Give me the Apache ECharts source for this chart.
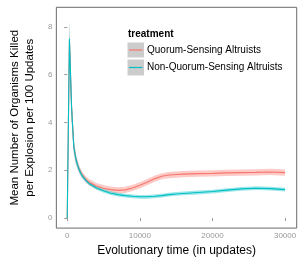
<!DOCTYPE html>
<html><head><meta charset="utf-8">
<script src="https://cdn.jsdelivr.net/npm/echarts@6/dist/echarts.min.js"></script>
<style>html,body{margin:0;padding:0;background:#fff}#c{width:305px;height:262px}</style>
</head><body><div id="c"></div>
<script>
const updates = [0,300,600,900,1200,1600,2000,2500,3000,4000,5000,6000,7000,8000,9000,10000,11000,12000,13000,14000,15000,16000,18000,20000,22000,24000,26000,28000,30000];
const qsMean  = [0,7.4,4.6,3.0,2.45,2.07,1.83,1.64,1.5,1.34,1.25,1.19,1.16,1.18,1.26,1.37,1.5,1.64,1.75,1.8,1.82,1.84,1.86,1.87,1.89,1.9,1.91,1.93,1.9];
const qsSE    = [0,0.8,0.5,0.3,0.2,0.16,0.14,0.13,0.13,0.13,0.13,0.13,0.13,0.13,0.13,0.13,0.13,0.13,0.13,0.13,0.13,0.13,0.13,0.13,0.13,0.13,0.13,0.13,0.13];
const nqsMean = [0,7.5,4.6,3.0,2.45,2.05,1.8,1.6,1.45,1.27,1.14,1.04,0.98,0.94,0.91,0.89,0.89,0.91,0.94,0.98,1.01,1.03,1.07,1.11,1.17,1.22,1.25,1.23,1.19];
const nqsSE   = [0,0.8,0.5,0.3,0.2,0.14,0.1,0.09,0.08,0.08,0.08,0.08,0.08,0.08,0.08,0.08,0.08,0.08,0.08,0.08,0.08,0.08,0.08,0.08,0.08,0.08,0.08,0.08,0.08];
const xTicks = [0,10000,20000,30000];
const yTicks = [0,2,4,6,8];
const names = ['Quorum-Sensing Altruists','Non-Quorum-Sensing Altruists'];
const colors = ['#F8766D','#00BFC4'];

function ribbon(mean, se, color){
  const data = updates.map((u,i)=>[u, mean[i]-se[i], mean[i]+se[i]]);
  return {
    type:'custom', data:data, clip:true, silent:true, z:1,
    encode:{x:0, y:[1,2]},
    renderItem:function(params, api){
      if (params.dataIndex !== 0) return null;
      const pts = [];
      for (let i=0;i<data.length;i++) pts.push(api.coord([data[i][0], data[i][2]]));
      for (let i=data.length-1;i>=0;i--) pts.push(api.coord([data[i][0], data[i][1]]));
      return {type:'polygon', shape:{points:pts}, style:{fill:color, opacity:0.38}};
    }
  };
}
function line(mean, color){
  return {type:'line', data:updates.map((u,i)=>[u, mean[i]]), symbol:'none', lineStyle:{color:color, width:1.1}, z:3};
}
const chart = echarts.init(document.getElementById('c'), null, {renderer:'canvas'});
chart.setOption({
  animation:false,
  grid:{left:37.7, right:8.3, top:7.3, bottom:26.3, show:true, borderColor:'#6b6b6b', borderWidth:1, backgroundColor:'#fff'},
  xAxis:{type:'value', min:-1500, max:31600,
    axisLine:{show:false}, splitLine:{show:false},
    axisTick:{show:true, customValues:xTicks, length:3, lineStyle:{color:'#999'}},
    axisLabel:{customValues:xTicks, formatter:v=>String(v), color:'#999', fontSize:8, fontFamily:'Liberation Sans', margin:4},
    name:'Evolutionary time (in updates)', nameLocation:'middle', nameGap:13,
    nameTextStyle:{color:'#000', fontSize:12, fontFamily:'Liberation Sans'}},
  yAxis:{type:'value', min:-0.42, max:8.82,
    axisLine:{show:false}, splitLine:{show:false},
    axisTick:{show:true, customValues:yTicks, length:3, lineStyle:{color:'#999'}},
    axisLabel:{customValues:yTicks, formatter:v=>String(v), color:'#999', fontSize:8, fontFamily:'Liberation Sans', margin:4},
    name:'Mean Number of Organisms Killed\nper Explosion per 100 Updates', nameLocation:'middle', nameGap:14,
    nameTextStyle:{color:'#000', fontSize:11.5, lineHeight:14.5, fontFamily:'Liberation Sans'}},
  series:[
    ribbon(qsMean, qsSE, colors[0]),
    ribbon(nqsMean, nqsSE, colors[1]),
    line(qsMean, colors[0]),
    line(nqsMean, colors[1])
  ],
  graphic:[
    {type:'text', left:128, top:29, style:{text:'treatment', font:'bold 10px Liberation Sans', fill:'#000'}},
    {type:'rect', shape:{x:127.5, y:42.5, width:16.5, height:15}, style:{fill:'#CCCCCC'}},
    {type:'line', shape:{x1:129, y1:50, x2:142.5, y2:50}, style:{stroke:colors[0], lineWidth:1.2}},
    {type:'text', left:147, top:45, style:{text:names[0], font:'10px Liberation Sans', fill:'#000'}},
    {type:'rect', shape:{x:127.5, y:59.5, width:16.5, height:16}, style:{fill:'#CCCCCC'}},
    {type:'line', shape:{x1:129, y1:67.5, x2:142.5, y2:67.5}, style:{stroke:colors[1], lineWidth:1.2}},
    {type:'text', left:147, top:62.5, style:{text:names[1], font:'10px Liberation Sans', fill:'#000'}}
  ]
});
</script></body></html>
